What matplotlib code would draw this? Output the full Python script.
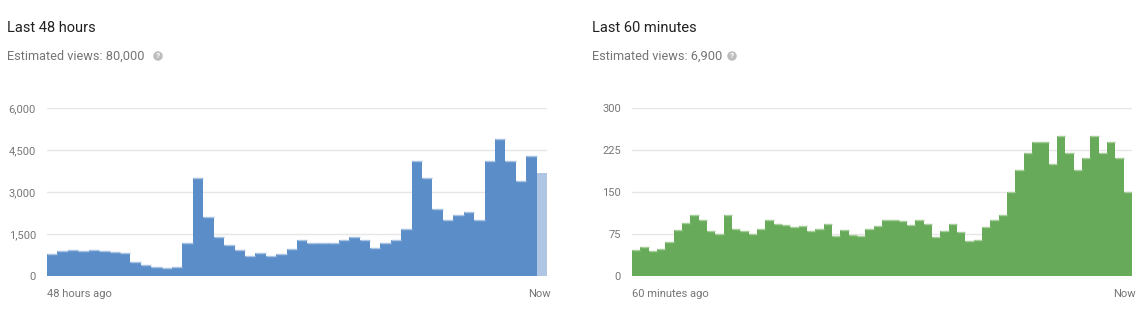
import matplotlib.pyplot as plt
import matplotlib.ticker as mticker
import numpy as np

plt.rcParams['font.family'] = ['Roboto', 'DejaVu Sans']

# --- data ---
hours_views = [800, 895, 930, 885, 930, 895, 870, 825, 500, 405, 335, 275, 310,
               1195, 3495, 2090, 1395, 1100, 920, 730, 825, 730, 800, 965,
               1290, 1195, 1195, 1195, 1290, 1385, 1290, 990, 1195, 1290, 1695,
               4090, 3495, 2385, 1990, 2195, 2290, 1990, 4090, 4900, 4090, 3400,
               4295, 3690]
hours_ticks = [0, 1500, 3000, 4500, 6000]

minutes_views = [46, 51, 45, 48, 61, 82, 94, 109, 100, 81, 75, 109, 84, 81, 75,
                 84, 100, 92, 91, 87, 89, 80, 84, 92, 71, 82, 73, 72, 84, 90,
                 100, 100, 98, 91, 100, 92, 69, 80, 92, 78, 63, 64, 87, 100, 109,
                 150, 189, 220, 239, 239, 200, 250, 220, 189, 210, 250, 220, 239,
                 210, 150]
minutes_ticks = [0, 75, 150, 225, 300]

panels = [
    dict(title='Last 48 hours', total='Estimated views: 80,000', values=hours_views,
         ticks=hours_ticks, start='48 hours ago', color='#5b8dc8', top='#a9c3e3',
         partial='#aec6e4', left=47, tx=7, icon=158),
    dict(title='Last 60 minutes', total='Estimated views: 6,900', values=minutes_views,
         ticks=minutes_ticks, start='60 minutes ago', color='#67aa59', top='#a6cf9c',
         partial=None, left=632, tx=592, icon=732),
]

W, H = 1141, 314
fig = plt.figure(figsize=(W / 100, H / 100), dpi=100)

for p in panels:
    ax = fig.add_axes([p['left'] / W, (H - 276) / H, 500 / W, 168 / H])
    vals = np.array(p['values'])
    x = np.arange(len(vals))
    n = len(vals) - 1 if p['partial'] else len(vals)

    # one filled step polygon -> no seams between neighbouring bars
    ax.stairs(vals[:n], np.arange(n + 1), fill=True, color=p['color'],
              linewidth=0, zorder=2)
    ax.hlines(vals[:n], x[:n], x[:n] + 1, color=p['top'], lw=1, zorder=3)
    if p['partial']:
        ax.bar(x[-1], vals[-1], width=1.0, align='edge', color=p['partial'],
               linewidth=0, zorder=2)

    ax.set_xlim(0, len(vals))
    ax.set_ylim(0, p['ticks'][-1])
    ax.set_yticks(p['ticks'])
    ax.yaxis.set_major_formatter(mticker.FuncFormatter(lambda v, pos: f'{int(v):,}'))
    ax.tick_params(axis='y', length=0, pad=8, labelsize=8, labelcolor='#777777')
    ax.set_xticks([])
    for s in ax.spines.values():
        s.set_visible(False)
    ax.grid(True, axis='y', color='#e6e6e6', lw=1, zorder=0)
    ax.set_axisbelow(True)

    ax.text(0, -0.11, p['start'], transform=ax.transAxes, ha='left', va='center',
            fontsize=8, color='#757575')
    ax.text(1.008, -0.11, 'Now', transform=ax.transAxes, ha='right', va='center',
            fontsize=8, color='#757575')

    fig.text(p['tx'] / W, 1 - 28 / H, p['title'], ha='left', va='center',
             fontsize=10.5, color='#212121')
    fig.text(p['tx'] / W, 1 - 56 / H, p['total'], ha='left', va='center',
             fontsize=9.2, color='#757575')
    fig.text(p['icon'] / W, 1 - 56 / H, '?', ha='center', va='center', fontsize=6,
             color='white', fontweight='bold',
             bbox=dict(boxstyle='circle,pad=0.15', fc='#bdbdbd', ec='none'))

fig.savefig('out.png', dpi=100)
